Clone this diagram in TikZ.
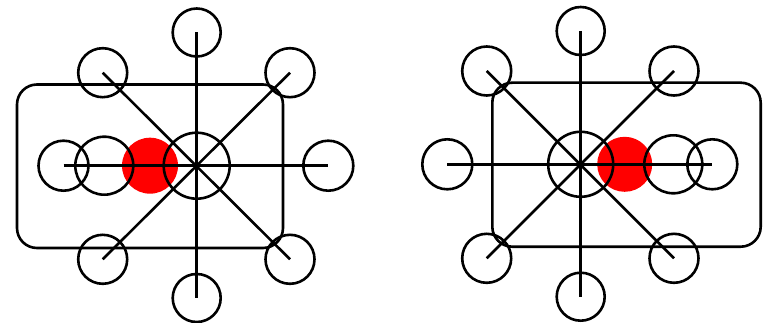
\documentclass[tikz,border=0pt]{standalone}
\begin{document}
\begin{tikzpicture}[x=1pt,y=-1pt,
  ln/.style={line width=2.6pt,black},
  ring/.style={circle,draw=black,line width=2.6pt,inner sep=0pt,minimum size=#1},
  dot/.style={circle,fill=red,inner sep=0pt,minimum size=#1},
  frame/.style={draw=black,line width=2.6pt,rounded corners=20pt}]
\useasboundingbox (0,0) rectangle (768,323);
% ---------- left figure ----------
\node[dot=56pt] (Lred) at (150,165.7) {};
\draw[frame] (17,84.5) rectangle (283,248);
\node[ring=48pt] (Lt) at (196.7,32.5) {};
\node[ring=48pt] (Lb) at (196.7,298) {};
\node[ring=50pt] (Ll) at (63.5,165.7) {};
\node[ring=50pt] (Lr) at (328.3,165.7) {};
\node[ring=49pt] (Ltl) at (102.7,72.7) {};
\node[ring=49pt] (Ltr) at (290,72.7) {};
\node[ring=49pt] (Lbl) at (102.7,259.3) {};
\node[ring=49pt] (Lbr) at (290,259.3) {};
\node[ring=66pt] (Lc) at (196.7,165.7) {};
\node[ring=58pt] (Lm) at (104.3,165.7) {};
\draw[ln] (Lt.center) -- (Lb.center);
\draw[ln] (Ll.center) -- (Lr.center);
\draw[ln] (Ltl.center) -- (Lbr.center);
\draw[ln] (Ltr.center) -- (Lbl.center);
% ---------- right figure ----------
\node[dot=55pt] (Rred) at (624.7,164.3) {};
\draw[frame] (492.3,82.7) rectangle (760.7,246.7);
\node[ring=48pt] (Rt) at (580.7,31) {};
\node[ring=48pt] (Rb) at (580.7,296.7) {};
\node[ring=50pt] (Rl) at (447.3,164.3) {};
\node[ring=50pt] (Rr) at (712.3,164.3) {};
\node[ring=49pt] (Rtl) at (486.7,71) {};
\node[ring=49pt] (Rtr) at (674,71) {};
\node[ring=49pt] (Rbl) at (486.7,258.3) {};
\node[ring=49pt] (Rbr) at (674,258.3) {};
\node[ring=65pt] (Rc) at (580.7,164.3) {};
\node[ring=58pt] (Rm) at (673.3,164.3) {};
\draw[ln] (Rt.center) -- (Rb.center);
\draw[ln] (Rl.center) -- (Rr.center);
\draw[ln] (Rtl.center) -- (Rbr.center);
\draw[ln] (Rtr.center) -- (Rbl.center);
\end{tikzpicture}
\end{document}
